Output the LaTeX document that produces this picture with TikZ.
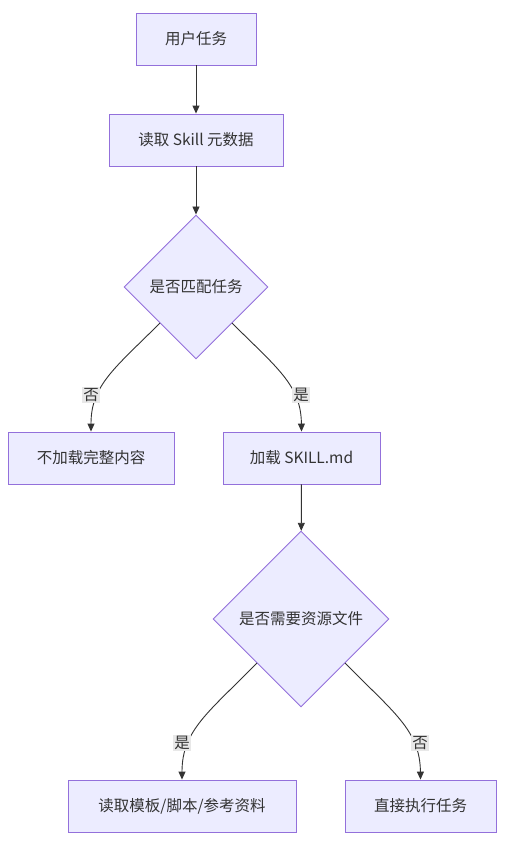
\documentclass[tikz,border=0pt]{standalone}
\usepackage{fontspec}
\setmainfont{Noto Sans CJK SC}
\usetikzlibrary{arrows.meta,shapes.geometric}
\definecolor{nodefill}{HTML}{ECECFF}
\definecolor{nodedraw}{HTML}{9370DB}
\definecolor{linec}{HTML}{333333}
\definecolor{lblbg}{HTML}{E8E8E8}
\definecolor{txt}{HTML}{333333}
\tikzset{
  box/.style={draw=nodedraw,fill=nodefill,line width=0.9pt,minimum height=52pt,inner sep=0pt,text=txt,font=\fontsize{15.5}{18}\selectfont},
  dia/.style={draw=nodedraw,fill=nodefill,line width=0.9pt,diamond,aspect=1,inner sep=0pt,text=txt,font=\fontsize{15.5}{18}\selectfont},
  conn/.style={draw=linec,line width=0.9pt,-{Triangle[length=8pt,width=7pt]}},
  lbl/.style={fill=lblbg,text=txt,inner sep=1.5pt,font=\fontsize{15.5}{18}\selectfont},
}
\begin{document}
\begin{tikzpicture}[x=1pt,y=-1pt]
\useasboundingbox (0,0) rectangle (504,846);
\node[box,minimum width=120pt] (a) at (196,39) {用户任务};
\node[box,minimum width=174pt] (b) at (196,140) {读取 Skill 元数据};
\node[dia,minimum size=144pt] (c) at (196,287) {是否匹配任务};
\node[box,minimum width=166pt] (d) at (91,458) {不加载完整内容};
\node[box,minimum width=157pt] (e) at (301.5,458) {加载 SKILL.md};
\node[dia,minimum size=176pt] (f) at (301,619) {是否需要资源文件};
\node[box,minimum width=228pt] (g) at (182,806) {读取模板/脚本/参考资料};
\node[box,minimum width=151pt] (h) at (420.5,806) {直接执行任务};
\coordinate (c1) at (160,323);
\coordinate (c2) at (232,323);
\coordinate (f1) at (257,663);
\coordinate (f2) at (345,663);
\draw[conn] (a) -- (b);
\draw[conn] (b) -- (c);
\draw[conn] (c1) .. controls (115,368) and (91,385) .. (d.north);
\draw[conn] (c2) .. controls (277,368) and (301,385) .. (e.north);
\draw[conn] (e) -- (f);
\draw[conn] (f1) .. controls (209,712) and (182,730) .. (g.north);
\draw[conn] (f2) .. controls (393,712) and (420,730) .. (h.north);
\node[lbl] (l1) at (91,395) {否};
\node[lbl] (l2) at (301,395) {是};
\node[lbl] (l3) at (182,743) {是};
\node[lbl] (l4) at (420,743) {否};
\end{tikzpicture}
\end{document}
